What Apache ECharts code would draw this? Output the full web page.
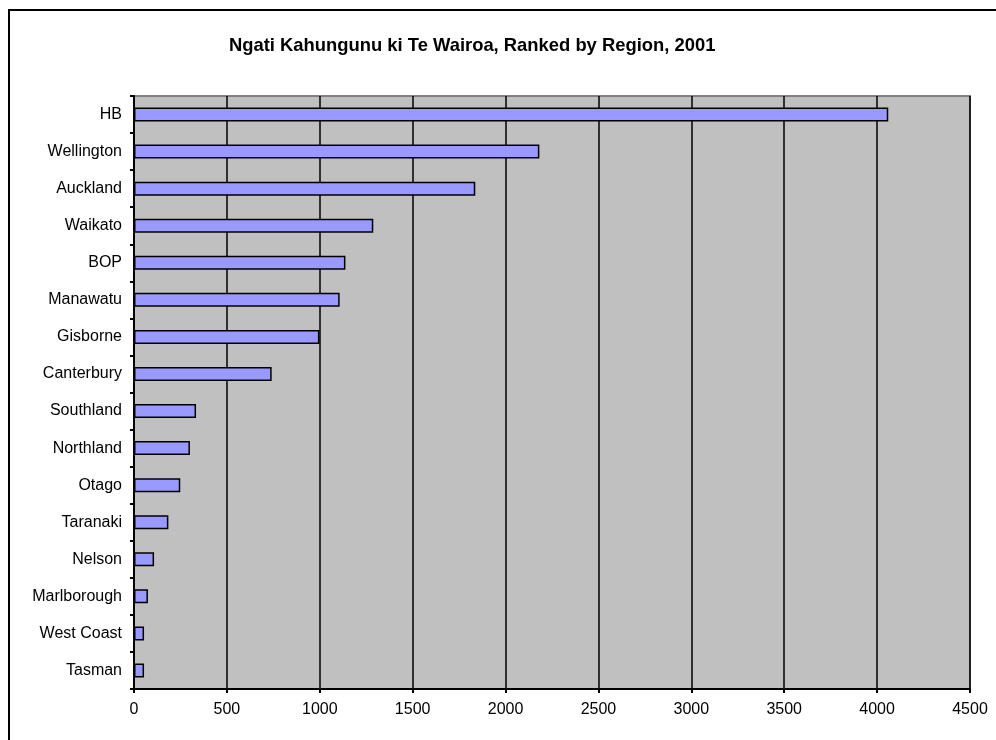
<!DOCTYPE html>
<html>
<head>
<meta charset="utf-8">
<script src="https://cdn.jsdelivr.net/npm/echarts@6/dist/echarts.min.js"></script>
<style>
    html, body { margin: 0; padding: 0; background: #fff; }
    #chart { width: 996px; height: 740px; }
</style>
</head>
<body>
<div id="chart"></div>
<script>
    var regions = ['HB', 'Wellington', 'Auckland', 'Waikato', 'BOP', 'Manawatu', 'Gisborne', 'Canterbury',
        'Southland', 'Northland', 'Otago', 'Taranaki', 'Nelson', 'Marlborough', 'West Coast', 'Tasman'];
    var counts = [4060, 2182, 1837, 1288, 1138, 1107, 998, 741, 334, 301, 249, 185, 108, 75, 54, 54];
    var chartTitle = 'Ngati Kahungunu ki Te Wairoa, Ranked by Region, 2001';

    var myChart = echarts.init(document.getElementById('chart'));
    var font = 'Liberation Sans, Arial, sans-serif';

    var option = {
        backgroundColor: '#fff',
        animation: false,
        title: {
            text: chartTitle,
            left: 224,
            top: 32,
            textStyle: {
                fontFamily: font,
                fontSize: 18.4,
                fontWeight: 'bold',
                color: '#000'
            }
        },
        graphic: [{
            type: 'rect',
            z: -10,
            shape: { x: 9, y: 10, width: 1000, height: 800 },
            style: { fill: 'none', stroke: '#000', lineWidth: 2 }
        }],
        grid: {
            left: 134,
            right: 26,
            top: 96,
            bottom: 51,
            show: true,
            backgroundColor: '#C0C0C0',
            borderColor: '#808080',
            borderWidth: 2
        },
        xAxis: {
            type: 'value',
            min: 0,
            max: 4500,
            interval: 500,
            axisLine: { show: true, lineStyle: { color: '#000', width: 2 } },
            axisTick: { show: true, length: 4, lineStyle: { color: '#000', width: 2 } },
            axisLabel: {
                color: '#000', fontFamily: font, fontSize: 16, margin: 13,
                formatter: function (v) { return String(v); }
            },
            splitLine: { show: true, lineStyle: { color: '#000', width: 1.5 } }
        },
        yAxis: {
            type: 'category',
            inverse: true,
            data: regions,
            axisLine: { show: true, lineStyle: { color: '#000', width: 2 } },
            axisTick: { show: true, length: 4, lineStyle: { color: '#000', width: 2 } },
            axisLabel: { color: '#000', fontFamily: font, fontSize: 16, margin: 12 },
            splitLine: { show: false }
        },
        series: [{
            type: 'bar',
            data: counts,
            barWidth: 14,
            itemStyle: {
                color: '#9999FF',
                borderColor: '#000',
                borderWidth: 1.5
            }
        }]
    };
    myChart.setOption(option);
</script>
</body>
</html>
